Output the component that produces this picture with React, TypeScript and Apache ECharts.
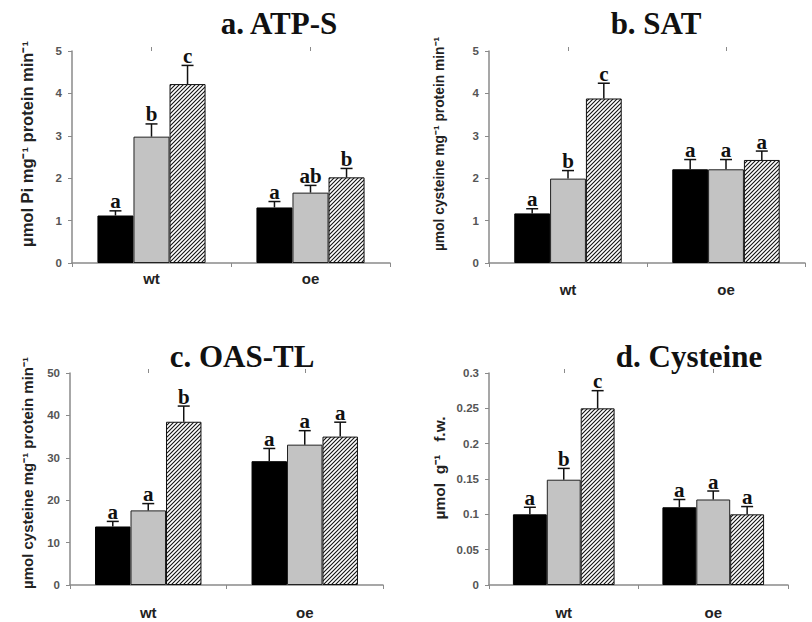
import React, { useEffect, useRef } from "react";
import * as echarts from "echarts";

// ---- data ----
const groups = ["wt", "oe"];
const yTicksCysteine = ["0", "0.05", "0.1", "0.15", "0.2", "0.25", "0.3"];

// a. ATP-S
const atpsBlack = [1.12, 1.31];
const atpsBlackErr = [0.11, 0.14];
const atpsGray = [2.98, 1.66];
const atpsGrayErr = [0.3, 0.17];
const atpsHatch = [4.22, 2.02];
const atpsHatchErr = [0.44, 0.21];
const atpsLetters = [["a", "a"], ["b", "ab"], ["c", "b"]];

// b. SAT
const satBlack = [1.17, 2.21];
const satBlackErr = [0.11, 0.23];
const satGray = [1.99, 2.21];
const satGrayErr = [0.19, 0.23];
const satHatch = [3.88, 2.43];
const satHatchErr = [0.36, 0.21];
const satLetters = [["a", "a"], ["b", "a"], ["c", "a"]];

// c. OAS-TL
const oasBlack = [13.8, 29.2];
const oasBlackErr = [1.2, 3.0];
const oasGray = [17.6, 33.1];
const oasGrayErr = [1.6, 3.3];
const oasHatch = [38.5, 35.0];
const oasHatchErr = [3.7, 3.4];
const oasLetters = [["a", "a"], ["a", "a"], ["b", "a"]];

// d. Cysteine
const cysBlack = [0.1, 0.11];
const cysBlackErr = [0.01, 0.011];
const cysGray = [0.149, 0.121];
const cysGrayErr = [0.016, 0.012];
const cysHatch = [0.25, 0.1];
const cysHatchErr = [0.025, 0.011];
const cysLetters = [["a", "a"], ["b", "a"], ["c", "a"]];

const titles = ["a. ATP-S", "b. SAT", "c. OAS-TL", "d. Cysteine"];
const yNames = [
  "µmol Pi mg⁻¹ protein min⁻¹",
  "µmol cysteine mg⁻¹ protein min⁻¹",
  "µmol cysteine mg⁻¹ protein min⁻¹",
  "µmol  g⁻¹   f.w.",
];

const panels = [
  { vals: [atpsBlack, atpsGray, atpsHatch], errs: [atpsBlackErr, atpsGrayErr, atpsHatchErr], letters: atpsLetters, max: 5, interval: 1 },
  { vals: [satBlack, satGray, satHatch], errs: [satBlackErr, satGrayErr, satHatchErr], letters: satLetters, max: 5, interval: 1 },
  { vals: [oasBlack, oasGray, oasHatch], errs: [oasBlackErr, oasGrayErr, oasHatchErr], letters: oasLetters, max: 50, interval: 10 },
  { vals: [cysBlack, cysGray, cysHatch], errs: [cysBlackErr, cysGrayErr, cysHatchErr], letters: cysLetters, max: 0.3, interval: 0.05 },
];

// ---- layout / style ----
const gridPos = [
  { left: 72, top: 51, width: 318, height: 212 },
  { left: 489, top: 51, width: 316, height: 212 },
  { left: 70, top: 373, width: 313, height: 212 },
  { left: 489, top: 373, width: 299, height: 212 },
];
const catLabelMargin = [8, 19, 20, 20];
const titlePos = [
  [279, 23],
  [656, 23],
  [242, 356],
  [689, 356],
];
const yNamePos = [
  [27, 144, 16.5],
  [439, 144, 13.8],
  [27, 473, 15],
  [439, 468, 15.5],
];
const GAP = 0.32;
const AXIS_COLOR = "#8a8a8a";

const hatchSvg =
  "<svg xmlns='http://www.w3.org/2000/svg' width='4' height='4'>" +
  "<rect width='4' height='4' fill='white'/>" +
  "<path d='M-1,1 L1,-1 M0,4 L4,0 M3,5 L5,3' stroke='#111' stroke-width='1.1'/></svg>";
const hatchUrl = "data:image/svg+xml;charset=utf-8," + encodeURIComponent(hatchSvg);

const barStyles = [
  { color: "#000", borderColor: "#000", borderWidth: 1 },
  { color: "#c3c3c3", borderColor: "#222", borderWidth: 1 },
  {
    color: { image: hatchUrl, repeat: "repeat" },
    borderColor: "#111",
    borderWidth: 1,
  },
];

function buildOption() {
  const grid: any[] = [];
  const xAxis: any[] = [];
  const yAxis: any[] = [];
  const series: any[] = [];
  const graphic: any[] = [];

  panels.forEach((p, g) => {
    grid.push({ ...gridPos[g], containLabel: false });
    xAxis.push({
      type: "category",
      gridIndex: g,
      data: groups,
      axisLine: { lineStyle: { color: AXIS_COLOR, width: 1.5 } },
      axisTick: { show: true, length: 4, lineStyle: { color: AXIS_COLOR } },
      axisLabel: {
        color: "#222",
        fontSize: 15,
        fontWeight: "bold",
        fontFamily: "Liberation Sans, Arial, sans-serif",
        margin: catLabelMargin[g],
      },
    });
    xAxis.push({
      type: "category",
      gridIndex: g,
      data: groups,
      axisLine: { show: false },
      axisTick: { show: true, alignWithLabel: true, length: 4, lineStyle: { color: AXIS_COLOR } },
      axisLabel: { show: false },
    });
    yAxis.push({
      type: "value",
      gridIndex: g,
      min: 0,
      max: p.max,
      interval: p.interval,
      splitLine: { show: false },
      axisLine: { show: true, lineStyle: { color: AXIS_COLOR, width: 1.5 } },
      axisTick: { show: true, length: 4, lineStyle: { color: AXIS_COLOR } },
      axisLabel: {
        color: "#555",
        fontSize: 11.5,
        fontWeight: "bold",
        fontFamily: "Liberation Sans, Arial, sans-serif",
        margin: 10,
        formatter: (v: number) => (g === 3 ? yTicksCysteine[Math.round(v / 0.05)] : String(v)),
      },
    });

    p.vals.forEach((vals, k) => {
      series.push({
        type: "bar",
        xAxisIndex: 2 * g,
        yAxisIndex: g,
        data: vals,
        barGap: "0%",
        barCategoryGap: GAP * 100 + "%",
        itemStyle: barStyles[k],
        z: 2,
      });
    });
    p.vals.forEach((vals, k) => {
      series.push({
        type: "custom",
        xAxisIndex: 2 * g,
        yAxisIndex: g,
        z: 5,
        data: vals.map((v, i) => [i, v, p.errs[k][i]]),
        renderItem: (params: any, api: any) => {
          const ci = api.value(0);
          const v = api.value(1);
          const e = api.value(2);
          const base = api.coord([ci, v]);
          const top = api.coord([ci, v + e]);
          const band = api.size([1, 0])[0];
          const bw = (band * (1 - GAP)) / 3;
          const x = base[0] + (k - 1) * bw;
          const letter = p.letters[k][params.dataIndex];
          return {
            type: "group",
            children: [
              {
                type: "line",
                shape: { x1: x, y1: base[1], x2: x, y2: top[1] },
                style: { stroke: "#111", lineWidth: 1.5 },
              },
              {
                type: "line",
                shape: { x1: x - 6, y1: top[1], x2: x + 6, y2: top[1] },
                style: { stroke: "#111", lineWidth: 1.5 },
              },
              {
                type: "text",
                x: x,
                y: top[1] + 1,
                style: {
                  text: letter,
                  fill: "#111",
                  font: "bold 21px 'Liberation Serif', 'Times New Roman', serif",
                  textAlign: "center",
                  textVerticalAlign: "bottom",
                },
              },
            ],
          };
        },
      });
    });

    graphic.push({
      type: "text",
      x: titlePos[g][0],
      y: titlePos[g][1],
      style: {
        text: titles[g],
        fill: "#111",
        font: "bold 31px 'Liberation Serif', 'Times New Roman', serif",
        textAlign: "center",
        textVerticalAlign: "middle",
      },
    });
    graphic.push({
      type: "text",
      x: yNamePos[g][0],
      y: yNamePos[g][1],
      rotation: Math.PI / 2,
      style: {
        text: yNames[g],
        fill: "#222",
        font: `bold ${yNamePos[g][2]}px 'Liberation Sans', Arial, sans-serif`,
        textAlign: "center",
        textVerticalAlign: "middle",
      },
    });
  });

  return {
    animation: false,
    backgroundColor: "#fff",
    grid,
    xAxis,
    yAxis,
    series,
    graphic,
  };
}

export default function App() {
  const ref = useRef<HTMLDivElement>(null);
  useEffect(() => {
    if (!ref.current) return;
    const chart = echarts.init(ref.current, undefined, { renderer: "svg" });
    chart.setOption(buildOption() as any);
    return () => chart.dispose();
  }, []);
  return (
    <div
      ref={ref}
      style={{ position: "fixed", left: 0, top: 0, width: 812, height: 622, background: "#fff" }}
    />
  );
}
